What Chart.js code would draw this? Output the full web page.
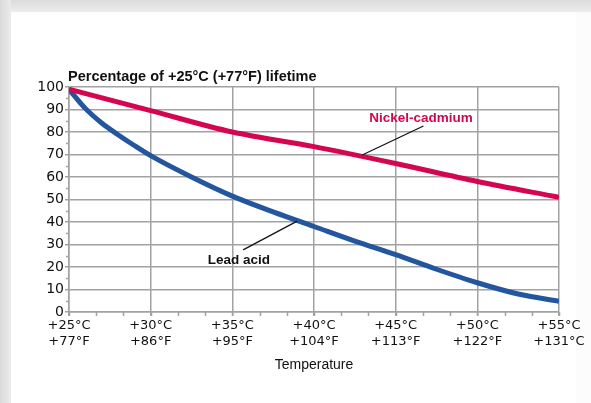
<!DOCTYPE html>
<html>
<head>
<meta charset="utf-8">
<script src="https://cdn.jsdelivr.net/npm/chart.js@4.4.1/dist/chart.umd.min.js"></script>
<style>
  html, body { margin:0; padding:0; }
  body { width:591px; height:403px; background:#fcfcfc; position:relative; overflow:hidden; }
  #top { position:absolute; left:0; top:0; width:591px; height:12px; background:linear-gradient(#dcdcdc, #ececec); }
  #side { position:absolute; left:0; top:0; width:11px; height:403px; background:linear-gradient(90deg, #dadada, #ebebeb); }
  #panel { position:absolute; left:11px; top:12px; width:565px; height:391px; background:#fff; }
  #wrap { position:absolute; left:0; top:0; width:591px; height:403px; }
</style>
</head>
<body>
<div id="top"></div>
<div id="side"></div>
<div id="panel"></div>
<div id="wrap"><canvas id="chart" width="591" height="403"></canvas></div>
<script>
// axis ticks
const tempC = [25, 30, 35, 40, 45, 50, 55];
const tickC = ['+25°C', '+30°C', '+35°C', '+40°C', '+45°C', '+50°C', '+55°C'];
const tickF = ['+77°F', '+86°F', '+95°F', '+104°F', '+113°F', '+122°F', '+131°C'];
const minorF = [77,80,83,86,89,92,95,98,101,104,107,110,113,116,119,122,125,128,131];
const minorY = [5,15,25,35,45,55,65,75,85,95];

// series (°C -> % of +25°C lifetime)
const nicadX = [25, 30, 35, 40, 45, 50, 55];
const nicadY = [99, 89.5, 80, 73.5, 66, 58, 51];
const leadX = [25, 26, 27, 28, 29, 30, 32.5, 35, 37.5, 40, 42.5, 45, 47.5, 50, 52.5, 55];
const leadY = [99, 90.5, 84, 78.8, 74, 69.5, 60, 51.5, 44.5, 38, 31.5, 25.5, 19, 13, 8, 4.8];

const RED = '#d4064f';
const BLUE = '#24569f';
const GRID = '#a2a2a2';

// callouts, in data coordinates
const notes = [
  {text:'Nickel-cadmium', color:RED, x:46.55, y:86.3, from:[46.7, 82.7], to:[42.95, 69.8]},
  {text:'Lead acid', color:'#111', x:35.4, y:23.1, from:[35.66, 27.6], to:[38.97, 40.4]}
];

const toXY = (xs, ys) => xs.map((x,i)=>({x:x, y:ys[i]}));

const extras = {
  id:'extras',
  afterDraw(chart){
    const {ctx, chartArea, scales:{x, y}} = chart;
    ctx.save();
    // minor ticks
    ctx.strokeStyle = GRID; ctx.lineWidth = 1.5;
    ctx.beginPath();
    minorF.forEach(f=>{
      const px = Math.round(x.getPixelForValue((f-32)*5/9)) + 0.5;
      ctx.moveTo(px, chartArea.bottom); ctx.lineTo(px, chartArea.bottom+4);
    });
    minorY.forEach(v=>{
      const py = Math.round(y.getPixelForValue(v)) + 0.5;
      ctx.moveTo(chartArea.left-3, py); ctx.lineTo(chartArea.left, py);
    });
    ctx.stroke();
    // title
    ctx.fillStyle = '#111';
    ctx.font = 'bold 14.5px "Liberation Sans", Arial, sans-serif';
    ctx.textAlign = 'left'; ctx.textBaseline = 'alphabetic';
    ctx.fillText('Percentage of +25°C (+77°F) lifetime', chartArea.left - 1, chartArea.top - 6);
    // callouts
    notes.forEach(n=>{
      ctx.strokeStyle = '#111'; ctx.lineWidth = 1.2;
      ctx.beginPath();
      ctx.moveTo(x.getPixelForValue(n.from[0]), y.getPixelForValue(n.from[1]));
      ctx.lineTo(x.getPixelForValue(n.to[0]), y.getPixelForValue(n.to[1]));
      ctx.stroke();
      ctx.fillStyle = n.color;
      ctx.font = 'bold 13.5px "Liberation Sans", Arial, sans-serif';
      ctx.textAlign = 'center'; ctx.textBaseline = 'middle';
      ctx.fillText(n.text, x.getPixelForValue(n.x), y.getPixelForValue(n.y));
    });
    ctx.restore();
  }
};

new Chart(document.getElementById('chart'), {
  type:'line',
  data:{
    datasets:[
      {label:'Nickel-cadmium', data:toXY(nicadX, nicadY), borderColor:RED, borderWidth:5, pointRadius:0, cubicInterpolationMode:'monotone', fill:false},
      {label:'Lead acid', data:toXY(leadX, leadY), borderColor:BLUE, borderWidth:5, pointRadius:0, cubicInterpolationMode:'monotone', fill:false}
    ]
  },
  options:{
    responsive:false,
    animation:false,
    devicePixelRatio:1,
    layout:{padding:{top:87, right:32, bottom:28, left:0}},
    plugins:{legend:{display:false}, tooltip:{enabled:false}},
    scales:{
      x:{
        type:'linear', min:25, max:55,
        afterBuildTicks:s=>{ s.ticks = tempC.map(v=>({value:v})); },
        afterFit:s=>{ s.height = 63; },
        ticks:{
          callback:(v)=>{ const i = tempC.indexOf(v); return [tickC[i], tickF[i]]; },
          color:'#111', font:{family:'"DejaVu Sans", sans-serif', size:13, lineHeight:1.25},
          maxRotation:0, autoSkip:false, padding:1
        },
        grid:{color:GRID, lineWidth:1.5, tickLength:4},
        border:{color:GRID, width:1.5},
        title:{display:true, text:'Temperature', color:'#111', font:{family:'"Liberation Sans", Arial, sans-serif', size:14}, padding:{top:0, bottom:1}}
      },
      y:{
        min:0, max:100,
        afterFit:s=>{ s.width = 69; },
        ticks:{stepSize:10, color:'#111', font:{family:'"DejaVu Sans", sans-serif', size:14}, padding:1},
        grid:{color:GRID, lineWidth:1.5, tickLength:4},
        border:{color:GRID, width:1.5}
      }
    }
  },
  plugins:[extras]
});
</script>
</body>
</html>
